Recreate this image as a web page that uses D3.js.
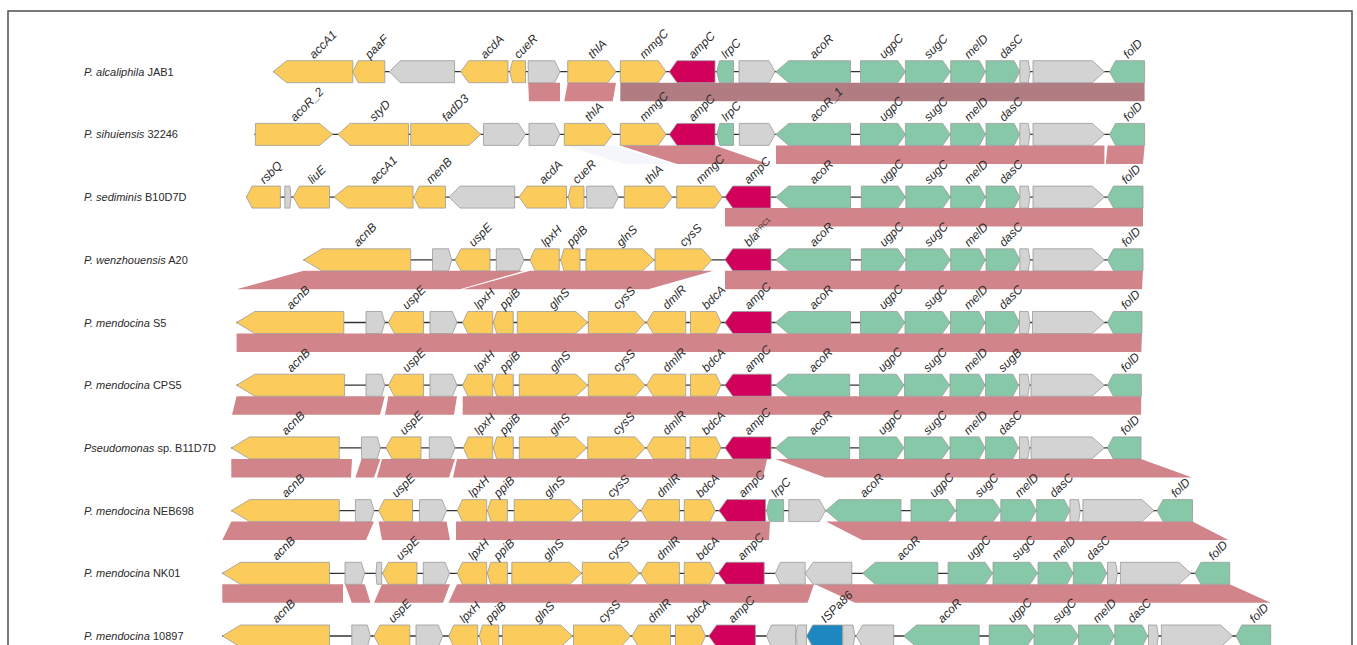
<!DOCTYPE html>
<html>
<head>
<meta charset="utf-8">
<script src="https://cdn.jsdelivr.net/npm/d3@7"></script>
<style>
  body { margin: 0; background: #fff; }
  svg { display: block; }
</style>
</head>
<body>
<svg id="chart" width="1357" height="645"></svg>
<script>
// ---- genomes (italic part, plain part) ----
const genomeNames = [
  ["P. alcaliphila", " JAB1"],
  ["P. sihuiensis", " 32246"],
  ["P. sediminis", " B10D7D"],
  ["P. wenzhouensis", " A20"],
  ["P. mendocina", " S5"],
  ["P. mendocina", " CPS5"],
  ["Pseudomonas", " sp. B11D7D"],
  ["P. mendocina", " NEB698"],
  ["P. mendocina", " NK01"],
  ["P. mendocina", " 10897"]
];

// ---- gene tables: [start bp, end bp, strand, class, name] ----
const genesJAB1 = [
  [2660, 6640, -1, "up", "accA1"], [6640, 8240, -1, "up", "paaF"], [8465, 11725, -1, "hyp", ""],
  [12035, 14400, -1, "up", "acdA"], [14490, 15275, -1, "up", "cueR"], [15410, 17000, 1, "hyp", ""],
  [17385, 19800, 1, "up", "thlA"], [20015, 22300, 1, "up", "mmgC"], [22465, 24750, -1, "amp", "ampC"],
  [24835, 25675, -1, "down", "lrpC"], [25950, 27750, 1, "hyp", ""], [27800, 31525, -1, "down", "acoR"],
  [32025, 34270, 1, "down", "ugpC"], [34270, 36515, 1, "down", "sugC"], [36535, 38265, 1, "down", "melD"],
  [38300, 39990, 1, "down", "dasC"], [39990, 40500, 1, "hyp", ""], [40650, 44220, 1, "hyp", ""],
  [44480, 46230, -1, "down", "folD"]
];
const genes32246 = [
  [1770, 5630, 1, "up", "acoR_2"], [5900, 9425, -1, "up", "styD"], [9535, 13040, 1, "up", "fadD3"],
  [13175, 15275, 1, "hyp", ""], [15450, 17000, 1, "hyp", ""], [17215, 19635, 1, "up", "thlA"],
  [20015, 22300, 1, "up", "mmgC"], [22465, 24750, -1, "amp", "ampC"], [24850, 25675, -1, "down", "lrpC"],
  [25965, 27750, 1, "hyp", ""], [27800, 31525, -1, "down", "acoR_1"], [32025, 34270, 1, "down", "ugpC"],
  [34270, 36515, 1, "down", "sugC"], [36535, 38265, 1, "down", "melD"], [38300, 39990, 1, "down", "dasC"],
  [39990, 40500, 1, "hyp", ""], [40650, 44220, 1, "hyp", ""], [44480, 46230, -1, "down", "folD"]
];
const genesB10D7D = [
  [1320, 3020, -1, "up", "rsbQ"], [3240, 3550, 1, "hyp", ""], [3665, 5475, -1, "up", "liuE"],
  [5700, 9650, -1, "up", "accA1"], [9690, 11275, -1, "up", "menB"], [11450, 14735, -1, "hyp", ""],
  [14950, 17325, -1, "up", "acdA"], [17415, 18200, -1, "up", "cueR"], [18335, 19915, 1, "hyp", ""],
  [20215, 22615, 1, "up", "thlA"], [22835, 25115, 1, "up", "mmgC"], [25250, 27535, -1, "amp", "ampC"],
  [27800, 31525, -1, "down", "acoR"], [32065, 34270, 1, "down", "ugpC"], [34290, 36515, 1, "down", "sugC"],
  [36535, 38265, 1, "down", "melD"], [38300, 39990, 1, "down", "dasC"], [39990, 40500, 1, "hyp", ""],
  [40650, 44220, 1, "hyp", ""], [44375, 46150, -1, "down", "folD"]
];
const genesA20 = [
  [4180, 9535, -1, "up", "acnB"], [10625, 11590, 1, "hyp", ""], [11750, 13500, -1, "up", "uspE"],
  [13815, 15200, 1, "hyp", ""], [15500, 16965, -1, "up", "lpxH"], [17035, 18000, -1, "up", "ppiB"],
  [18300, 21715, 1, "up", "glnS"], [21750, 24585, 1, "up", "cysS"], [25250, 27550, -1, "amp", "bla|PRC1"],
  [27800, 31525, -1, "down", "acoR"], [32065, 34270, 1, "down", "ugpC"], [34290, 36515, 1, "down", "sugC"],
  [36535, 38265, 1, "down", "melD"], [38300, 39990, 1, "down", "dasC"], [39990, 40500, 1, "hyp", ""],
  [40650, 44220, 1, "hyp", ""], [44375, 46150, -1, "down", "folD"]
];
const genesS5 = [
  [830, 6190, -1, "up", "acnB"], [7300, 8240, 1, "hyp", ""], [8420, 10175, -1, "up", "uspE"],
  [10500, 11850, 1, "hyp", ""], [12135, 13635, -1, "up", "lpxH"], [13665, 14665, -1, "up", "ppiB"],
  [14865, 18385, 1, "up", "glnS"], [18415, 21250, 1, "up", "cysS"], [21335, 23285, -1, "up", "dmlR"],
  [23525, 25050, 1, "up", "bdcA"], [25250, 27565, -1, "amp", "ampC"], [27775, 31525, -1, "down", "acoR"],
  [32025, 34240, 1, "down", "ugpC"], [34250, 36500, 1, "down", "sugC"], [36525, 38250, 1, "down", "melD"],
  [38275, 39975, 1, "down", "dasC"], [39975, 40500, 1, "hyp", ""], [40625, 44220, 1, "hyp", ""],
  [44375, 46100, -1, "down", "folD"]
];
const genesCPS5 = [
  [830, 6230, -1, "up", "acnB"], [7300, 8240, 1, "hyp", ""], [8420, 10175, -1, "up", "uspE"],
  [10500, 11850, 1, "hyp", ""], [12135, 13635, -1, "up", "lpxH"], [13665, 14665, -1, "up", "ppiB"],
  [14965, 18385, 1, "up", "glnS"], [18415, 21250, 1, "up", "cysS"], [21335, 23285, -1, "up", "dmlR"],
  [23525, 25050, 1, "up", "bdcA"], [25250, 27565, -1, "amp", "ampC"], [27775, 31485, -1, "down", "acoR"],
  [31975, 34200, 1, "down", "ugpC"], [34225, 36475, 1, "down", "sugC"], [36500, 38250, 1, "down", "melD"],
  [38275, 39925, 1, "down", "sugB"], [39975, 40475, 1, "hyp", ""], [40550, 44220, 1, "hyp", ""],
  [44375, 46065, -1, "down", "folD"]
];
const genesB11D7D = [
  [565, 5965, -1, "up", "acnB"], [7080, 8020, 1, "hyp", ""], [8300, 10050, -1, "up", "uspE"],
  [10465, 11750, 1, "hyp", ""], [12165, 13635, -1, "up", "lpxH"], [13665, 14665, -1, "up", "ppiB"],
  [14965, 18335, 1, "up", "glnS"], [18385, 21250, 1, "up", "cysS"], [21335, 23285, -1, "up", "dmlR"],
  [23500, 25050, 1, "up", "bdcA"], [25250, 27550, -1, "amp", "ampC"], [27775, 31485, -1, "down", "acoR"],
  [31975, 34200, 1, "down", "ugpC"], [34225, 36475, 1, "down", "sugC"], [36500, 38250, 1, "down", "melD"],
  [38275, 39925, 1, "down", "dasC"], [39975, 40475, 1, "hyp", ""], [40550, 44220, 1, "hyp", ""],
  [44375, 46050, -1, "down", "folD"]
];
const genesNEB698 = [
  [565, 5965, -1, "up", "acnB"], [6770, 7700, 1, "hyp", ""], [7930, 9625, -1, "up", "uspE"],
  [9975, 11325, 1, "hyp", ""], [11870, 13335, -1, "up", "lpxH"], [13375, 14370, -1, "up", "ppiB"],
  [14710, 18075, 1, "up", "glnS"], [18125, 20965, 1, "up", "cysS"], [21050, 22975, -1, "up", "dmlR"],
  [23215, 24760, 1, "up", "bdcA"], [24950, 27275, -1, "amp", "ampC"], [27325, 28180, -1, "down", "lrpC"],
  [28440, 30275, 1, "hyp", ""], [30300, 34050, -1, "down", "acoR"], [34550, 36775, 1, "down", "ugpC"],
  [36815, 39040, 1, "down", "sugC"], [39040, 40810, 1, "down", "melD"], [40830, 42495, 1, "down", "dasC"],
  [42495, 43015, 1, "hyp", ""], [43145, 46700, 1, "hyp", ""], [46850, 48625, -1, "down", "folD"]
];
const genesNK01 = [
  [115, 5475, -1, "up", "acnB"], [6250, 7235, 1, "hyp", ""], [7795, 8085, -1, "hyp", ""],
  [8130, 9850, -1, "up", "uspE"], [10165, 11475, 1, "hyp", ""], [11865, 13335, -1, "up", "lpxH"],
  [13365, 14370, -1, "up", "ppiB"], [14590, 18080, 1, "up", "glnS"], [18115, 20965, 1, "up", "cysS"],
  [21040, 22970, -1, "up", "dmlR"], [23215, 24765, 1, "up", "bdcA"], [24910, 27210, -1, "amp", "ampC"],
  [27765, 29260, -1, "hyp", ""], [29260, 31590, -1, "hyp", ""], [32130, 35890, -1, "down", "acoR"],
  [36405, 38630, 1, "down", "ugpC"], [38650, 40875, 1, "down", "sugC"], [40900, 42650, 1, "down", "melD"],
  [42665, 44330, 1, "down", "dasC"], [44375, 44870, 1, "hyp", ""], [45020, 48540, 1, "hyp", ""],
  [48750, 50485, -1, "down", "folD"]
];
const genes10897 = [
  [115, 5475, -1, "up", "acnB"], [6590, 7525, 1, "hyp", ""], [7700, 9490, -1, "up", "uspE"],
  [9800, 11140, 1, "hyp", ""], [11440, 12885, -1, "up", "lpxH"], [12960, 13940, -1, "up", "ppiB"],
  [14125, 17625, 1, "up", "glnS"], [17675, 20525, 1, "up", "cysS"], [20600, 22525, -1, "up", "dmlR"],
  [22775, 24275, 1, "up", "bdcA"], [24440, 26770, -1, "amp", "ampC"], [27325, 28785, -1, "hyp", ""],
  [28785, 29325, -1, "hyp", ""], [29335, 31125, -1, "is", "ISPa86"], [31140, 31750, 1, "hyp", ""],
  [31810, 33685, -1, "hyp", ""], [34185, 37960, -1, "down", "acoR"], [38460, 40700, 1, "down", "ugpC"],
  [40700, 42925, 1, "down", "sugC"], [42925, 44720, 1, "down", "melD"], [44740, 46380, 1, "down", "dasC"],
  [46425, 46920, 1, "hyp", ""], [47070, 50635, 1, "hyp", ""], [50800, 52535, -1, "down", "folD"]
];
const geneTables = [genesJAB1, genes32246, genesB10D7D, genesA20, genesS5,
                    genesCPS5, genesB11D7D, genesNEB698, genesNK01, genes10897];

// sequence spans drawn as the backbone line
const spans = [[2660, 46230], [1720, 46230], [1320, 46150], [4180, 46150], [830, 46100],
               [830, 46065], [565, 46050], [565, 48625], [115, 50485], [115, 52535]];

// ---- synteny links to the next genome: [start, end, next start, next end, identity class] ----
const links1 = [[15410, 17000, 15450, 17000, "hi"], [17385, 19800, 17215, 19635, "hi"],
                [20015, 46230, 20015, 46230, "top"]];
const links2 = [[17215, 19635, 20215, 22615, "low"], [20015, 24750, 22850, 27400, "hi"],
                [27800, 44220, 27800, 44220, "hi"], [44380, 46230, 44290, 46150, "hi"]];
const links3 = [[25250, 46150, 25250, 46150, "hi"]];
const links4 = [[4180, 15200, 830, 12000, "hi"], [15500, 24665, 12150, 21415, "hi"],
                [25250, 46150, 25250, 46100, "hi"]];
const links5 = [[830, 46100, 830, 46065, "hi"]];
const links6 = [[830, 8240, 600, 8000, "hi"], [8420, 11850, 8250, 11700, "hi"],
                [12135, 46065, 12135, 46050, "hi"]];
const links7 = [[565, 6600, 565, 6550, "hi"], [7080, 8020, 6770, 7700, "hi"],
                [8100, 11750, 7850, 11450, "hi"], [11850, 27350, 11650, 27150, "hi"],
                [27775, 46050, 30250, 48600, "hi"]];
const links8 = [[565, 7700, 115, 7300, "hi"], [7930, 11325, 8100, 11500, "hi"],
                [11800, 27500, 11800, 27450, "hi"], [30300, 48625, 32100, 50420, "hi"]];
const links9 = [[115, 6150, 115, 6150, "hi"], [6250, 7235, 6590, 7525, "hi"],
                [8100, 11500, 7700, 11150, "hi"], [11850, 29700, 11425, 29375, "hi"],
                [29750, 50485, 31750, 52535, "hi"]];
const linkTables = [links1, links2, links3, links4, links5, links6, links7, links8, links9];

// ---- styling ----
const geneColor = { up: "#fbcb5c", hyp: "#d3d3d3", amp: "#d1005b", down: "#86c8a8", is: "#1f87bf" };
const linkColor = { hi: "#d18489", top: "#b17d82", low: "#f4f6fb" };
const fontFamily = "'Liberation Sans', Arial, sans-serif";

const svg = d3.select("#chart");

const x = d3.scaleLinear().domain([0, 53000]).range([220, 1280]);
const y = d3.scalePoint().domain(d3.range(genomeNames.length)).range([71.7, 636]);

const halfH = 11;        // half arrow height
const linkTop = 11;      // link band offset below the row centre
const linkBot = 29.5;

// frame
svg.append("rect")
  .attr("x", 8).attr("y", 11).attr("width", 1344).attr("height", 700)
  .attr("fill", "none").attr("stroke", "#4d4d4d").attr("stroke-width", 1.5);

// links
const linkG = svg.append("g");
linkTables.forEach((tbl, i) => {
  const y0 = y(i) + linkTop, y1 = y(i) + linkBot;
  linkG.selectAll(null).data(tbl).enter().append("path")
    .attr("d", d => `M${x(d[0])},${y0}L${x(d[1])},${y0}L${x(d[3])},${y1}L${x(d[2])},${y1}Z`)
    .attr("fill", d => linkColor[d[4]]);
});

// backbone lines
svg.append("g").selectAll("line").data(spans).enter().append("line")
  .attr("x1", d => x(d[0])).attr("x2", d => x(d[1]))
  .attr("y1", (d, i) => y(i)).attr("y2", (d, i) => y(i))
  .attr("stroke", "#333").attr("stroke-width", 1.3);

function arrow(d, cy) {
  const x0 = x(d[0]), x1 = x(d[1]);
  const h = (x1 - x0) * 0.17;
  const t = cy - halfH, b = cy + halfH;
  if (d[2] > 0) {
    return `M${x0},${t}L${x1 - h},${t}L${x1},${cy}L${x1 - h},${b}L${x0},${b}Z`;
  }
  return `M${x1},${t}L${x0 + h},${t}L${x0},${cy}L${x0 + h},${b}L${x1},${b}Z`;
}

// genes and gene names
geneTables.forEach((tbl, i) => {
  const cy = y(i);
  const g = svg.append("g");
  g.selectAll("path").data(tbl).enter().append("path")
    .attr("d", d => arrow(d, cy))
    .attr("fill", d => geneColor[d[3]])
    .attr("stroke", "#9a9a9a").attr("stroke-width", 0.8);

  const lab = g.selectAll("text").data(tbl.filter(d => d[4])).enter().append("text")
    .attr("transform", d => `translate(${(x(d[0]) + x(d[1])) / 2 + 1},${cy - halfH - 1.5}) rotate(-45)`)
    .attr("font-family", fontFamily)
    .attr("font-size", 12).attr("font-style", "italic").attr("fill", "#2a2a2a");
  lab.each(function (d) {
    const parts = d[4].split("|");
    const t = d3.select(this);
    t.append("tspan").text(parts[0]);
    if (parts[1]) {
      t.append("tspan").attr("font-size", 7).attr("font-style", "normal")
        .attr("dy", -3.5).text(parts[1]);
    }
  });
});

// genome names
const names = svg.append("g").selectAll("text").data(genomeNames).enter().append("text")
  .attr("x", 84).attr("y", (d, i) => y(i) + 4)
  .attr("font-family", fontFamily)
  .attr("font-size", 11).attr("fill", "#2a2a2a");
names.append("tspan").attr("font-style", "italic").text(d => d[0]);
names.append("tspan").text(d => d[1]);
</script>
</body>
</html>
